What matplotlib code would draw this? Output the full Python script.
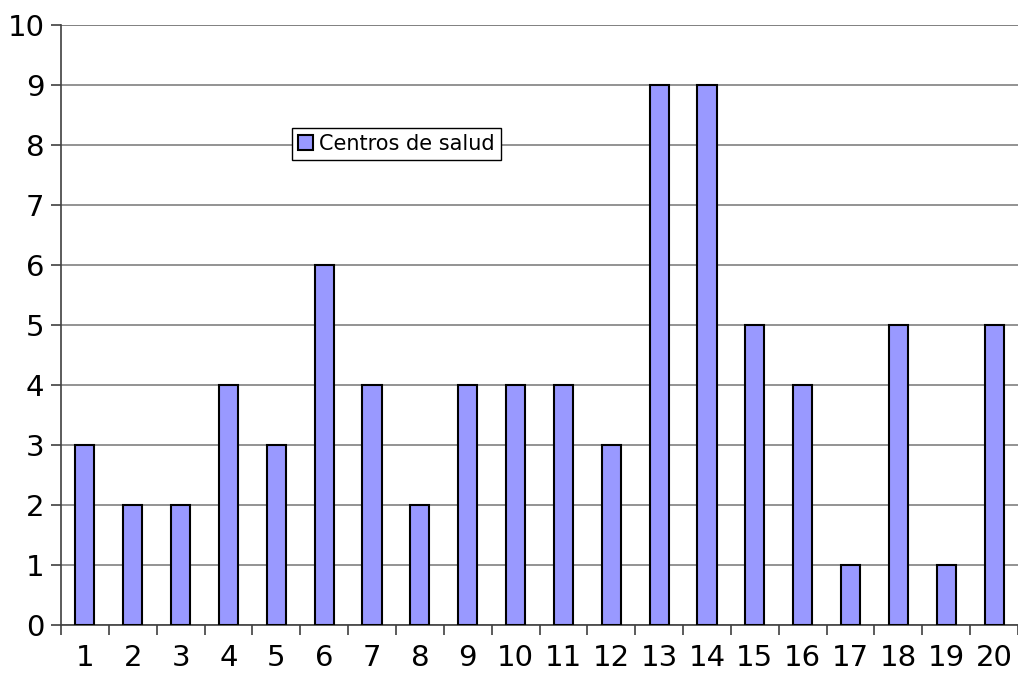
import numpy as np
import matplotlib.pyplot as plt

categorias = [str(i) for i in range(1, 21)]
centros = [3, 2, 2, 4, 3, 6, 4, 2, 4, 4, 4, 3, 9, 9, 5, 4, 1, 5, 1, 5]

fig = plt.figure(figsize=(10.18, 6.77), dpi=100)
ax = fig.add_axes([61/1018, 52/677, 957/1018, 600/677])

x = np.arange(len(categorias))
ax.bar(x, centros, width=0.4, color='#9999ff', edgecolor='black', linewidth=1.5,
       label='Centros de salud', zorder=3)

ax.set_xlim(-0.5, len(categorias) - 0.5)
ax.set_ylim(0, 10)
ax.set_yticks(range(0, 11))
ax.yaxis.grid(True, color='#808080', linewidth=1.2, zorder=0)
ax.axhline(10, color='#808080', linewidth=1.2, zorder=0)

ax.set_xticks(x)
ax.set_xticklabels(categorias)
ax.set_xticks(np.arange(-0.5, len(categorias)), minor=True)
ax.tick_params(axis='x', which='major', length=0, pad=14, labelsize=21)
ax.tick_params(axis='x', which='minor', length=7, width=1.2, color='#404040')
ax.tick_params(axis='y', length=7, width=1.2, color='#404040', labelsize=21, pad=5)

for s in ['top', 'right']:
    ax.spines[s].set_visible(False)
ax.spines['left'].set_color('#404040')
ax.spines['left'].set_linewidth(1.2)
ax.spines['bottom'].set_color('#404040')
ax.spines['bottom'].set_linewidth(1.2)

leg = ax.legend(loc='center left', bbox_to_anchor=(0.2414, 0.8017), fontsize=15,
                fancybox=False, edgecolor='black', framealpha=1,
                handlelength=0.7, handleheight=0.7, handletextpad=0.3,
                borderpad=0.3, borderaxespad=0)
leg.get_frame().set_linewidth(1.0)

fig.savefig('out.png', dpi=100)
